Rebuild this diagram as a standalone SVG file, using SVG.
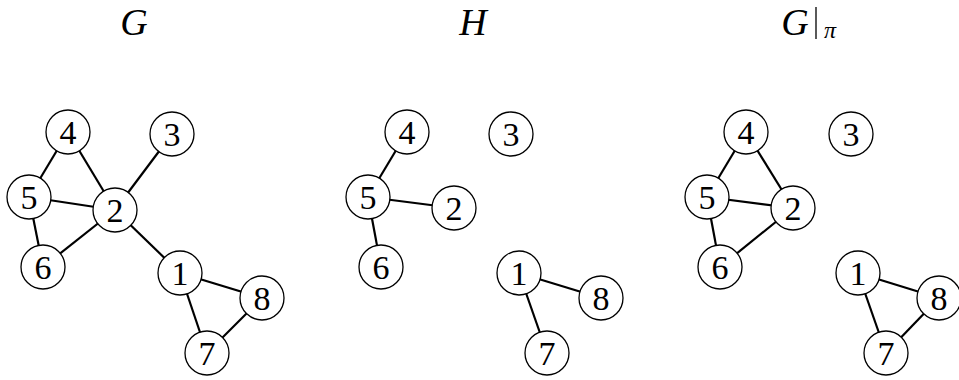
<svg xmlns="http://www.w3.org/2000/svg" width="959" height="380" viewBox="0 0 959 380">
<style>
.n circle{fill:#fff;stroke:#000;stroke-width:1.3}
.n text{font-family:"Liberation Serif","DejaVu Serif",serif;font-size:34px;text-anchor:middle;fill:#000}
.e line{stroke:#000;stroke-width:2.2}
.t{font-family:"Liberation Serif","DejaVu Serif",serif;font-style:italic;font-size:38px;fill:#000}
</style>
<g id="titles">
<text class="t" x="134" y="35" text-anchor="middle">G</text>
<text class="t" x="473" y="35" text-anchor="middle">H</text>
<text class="t" x="795" y="35" text-anchor="middle">G</text>
<line x1="816" y1="7" x2="816" y2="39" stroke="#000" stroke-width="1.3"/>
<text class="t" x="830" y="38" text-anchor="middle" style="font-size:24px">π</text>
</g>
<g id="edges" class="e">
<!-- G -->
<line x1="68" y1="132" x2="29" y2="197"/>
<line x1="68" y1="132" x2="115" y2="210"/>
<line x1="29" y1="197" x2="115" y2="210"/>
<line x1="29" y1="197" x2="43" y2="267"/>
<line x1="43" y1="267" x2="115" y2="210"/>
<line x1="172" y1="134" x2="115" y2="210"/>
<line x1="115" y1="210" x2="180" y2="273"/>
<line x1="180" y1="273" x2="262" y2="298"/>
<line x1="180" y1="273" x2="207" y2="353"/>
<line x1="207" y1="353" x2="262" y2="298"/>
<!-- H -->
<line x1="407" y1="132" x2="368" y2="197"/>
<line x1="368" y1="197" x2="454" y2="208"/>
<line x1="368" y1="197" x2="381" y2="267"/>
<line x1="519" y1="273" x2="601" y2="298"/>
<line x1="519" y1="273" x2="547" y2="353"/>
<!-- G|pi -->
<line x1="746" y1="132" x2="707" y2="197"/>
<line x1="746" y1="132" x2="793" y2="208"/>
<line x1="707" y1="197" x2="793" y2="208"/>
<line x1="707" y1="197" x2="720" y2="267"/>
<line x1="720" y1="267" x2="793" y2="208"/>
<line x1="858" y1="273" x2="939" y2="298"/>
<line x1="858" y1="273" x2="886" y2="353"/>
<line x1="886" y1="353" x2="939" y2="298"/>
</g>
<g id="G-4" class="n"><circle cx="68" cy="132" r="22"/><text x="68" y="144">4</text></g>
<g id="G-3" class="n"><circle cx="172" cy="134" r="22"/><text x="172" y="146">3</text></g>
<g id="G-5" class="n"><circle cx="29" cy="197" r="22"/><text x="29" y="209">5</text></g>
<g id="G-2" class="n"><circle cx="115" cy="210" r="22"/><text x="115" y="222">2</text></g>
<g id="G-6" class="n"><circle cx="43" cy="267" r="22"/><text x="43" y="279">6</text></g>
<g id="G-1" class="n"><circle cx="180" cy="273" r="22"/><text x="180" y="285">1</text></g>
<g id="G-8" class="n"><circle cx="262" cy="298" r="22"/><text x="262" y="310">8</text></g>
<g id="G-7" class="n"><circle cx="207" cy="353" r="22"/><text x="207" y="365">7</text></g>

<g id="H-4" class="n"><circle cx="407" cy="132" r="22"/><text x="407" y="144">4</text></g>
<g id="H-3" class="n"><circle cx="511" cy="134" r="22"/><text x="511" y="146">3</text></g>
<g id="H-5" class="n"><circle cx="368" cy="197" r="22"/><text x="368" y="209">5</text></g>
<g id="H-2" class="n"><circle cx="454" cy="208" r="22"/><text x="454" y="220">2</text></g>
<g id="H-6" class="n"><circle cx="381" cy="267" r="22"/><text x="381" y="279">6</text></g>
<g id="H-1" class="n"><circle cx="519" cy="273" r="22"/><text x="519" y="285">1</text></g>
<g id="H-8" class="n"><circle cx="601" cy="298" r="22"/><text x="601" y="310">8</text></g>
<g id="H-7" class="n"><circle cx="547" cy="353" r="22"/><text x="547" y="365">7</text></g>

<g id="P-4" class="n"><circle cx="746" cy="132" r="22"/><text x="746" y="144">4</text></g>
<g id="P-3" class="n"><circle cx="851" cy="134" r="22"/><text x="851" y="146">3</text></g>
<g id="P-5" class="n"><circle cx="707" cy="197" r="22"/><text x="707" y="209">5</text></g>
<g id="P-2" class="n"><circle cx="793" cy="208" r="22"/><text x="793" y="220">2</text></g>
<g id="P-6" class="n"><circle cx="720" cy="267" r="22"/><text x="720" y="279">6</text></g>
<g id="P-1" class="n"><circle cx="858" cy="273" r="22"/><text x="858" y="285">1</text></g>
<g id="P-8" class="n"><circle cx="939" cy="298" r="22"/><text x="939" y="310">8</text></g>
<g id="P-7" class="n"><circle cx="886" cy="353" r="22"/><text x="886" y="365">7</text></g>
</svg>
